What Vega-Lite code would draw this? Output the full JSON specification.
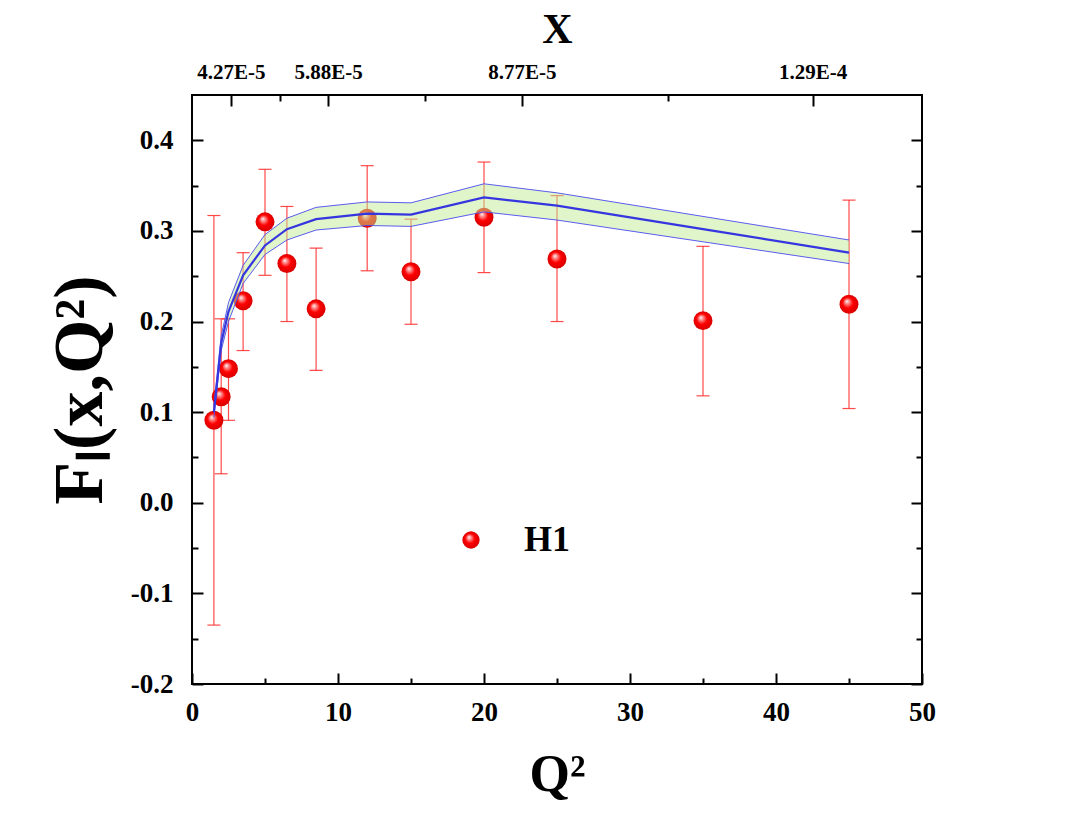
{
  "$schema": "https://vega.github.io/schema/vega-lite/v6.json",
  "width": 730,
  "height": 589,
  "autosize": {"type": "none"},
  "padding": {"left": 192, "top": 95, "right": 150, "bottom": 137},
  "background": "white",
  "config": {
    "view": {"stroke": "black", "strokeWidth": 2},
    "font": "Liberation Serif",
    "axis": {
      "labelFont": "Liberation Serif",
      "labelFontWeight": "bold",
      "labelColor": "black",
      "labelFlush": false,
      "titleFont": "Liberation Serif",
      "titleFontWeight": "bold",
      "titleColor": "black",
      "domain": false,
      "grid": false,
      "tickColor": "black",
      "tickWidth": 2
    }
  },
  "datasets": {
    "h1": [
      {"q2": 1.5, "f": 0.091, "lo": -0.135, "hi": 0.317, "series": "H1"},
      {"q2": 2.0, "f": 0.117, "lo": 0.032, "hi": 0.203, "series": "H1"},
      {"q2": 2.5, "f": 0.148, "lo": 0.091, "hi": 0.203, "series": "H1"},
      {"q2": 3.5, "f": 0.223, "lo": 0.168, "hi": 0.276, "series": "H1"},
      {"q2": 5.0, "f": 0.310, "lo": 0.251, "hi": 0.368, "series": "H1"},
      {"q2": 6.5, "f": 0.264, "lo": 0.200, "hi": 0.327, "series": "H1"},
      {"q2": 8.5, "f": 0.214, "lo": 0.146, "hi": 0.281, "series": "H1"},
      {"q2": 12, "f": 0.314, "lo": 0.256, "hi": 0.372, "series": "H1"},
      {"q2": 15, "f": 0.255, "lo": 0.197, "hi": 0.313, "series": "H1"},
      {"q2": 20, "f": 0.315, "lo": 0.254, "hi": 0.376, "series": "H1"},
      {"q2": 25, "f": 0.269, "lo": 0.200, "hi": 0.339, "series": "H1"},
      {"q2": 35, "f": 0.201, "lo": 0.118, "hi": 0.283, "series": "H1"},
      {"q2": 45, "f": 0.219, "lo": 0.104, "hi": 0.334, "series": "H1"}
    ],
    "curve": [
      {"q2": 1.5, "c": 0.100, "lo": 0.094, "hi": 0.107},
      {"q2": 2.0, "c": 0.176, "lo": 0.168, "hi": 0.184},
      {"q2": 2.5, "c": 0.211, "lo": 0.200, "hi": 0.221},
      {"q2": 3.5, "c": 0.251, "lo": 0.242, "hi": 0.262},
      {"q2": 5.0, "c": 0.284, "lo": 0.274, "hi": 0.296},
      {"q2": 6.5, "c": 0.302, "lo": 0.290, "hi": 0.314},
      {"q2": 8.5, "c": 0.313, "lo": 0.301, "hi": 0.326},
      {"q2": 12, "c": 0.319, "lo": 0.306, "hi": 0.332},
      {"q2": 15, "c": 0.318, "lo": 0.305, "hi": 0.331},
      {"q2": 20, "c": 0.337, "lo": 0.321, "hi": 0.352},
      {"q2": 25, "c": 0.328, "lo": 0.312, "hi": 0.342},
      {"q2": 35, "c": 0.302, "lo": 0.288, "hi": 0.316},
      {"q2": 45, "c": 0.276, "lo": 0.264, "hi": 0.290}
    ]
  },
  "layer": [
    {
      "data": {"name": "h1"},
      "mark": {"type": "rule", "color": "#ff2a2a", "strokeWidth": 1.2, "opacity": 0.85},
      "encoding": {
        "x": {"field": "q2", "type": "quantitative", "scale": {"domain": [0, 50], "nice": false, "zero": false},
          "axis": {"orient": "bottom", "values": [0,5,10,15,20,25,30,35,40,45,50],
            "labelExpr": "datum.value % 10 == 0 ? datum.label : ''",
            "labelFontSize": 27, "labelPadding": 26,
            "tickSize": {"condition": {"test": "datum.value % 10 == 0", "value": -11}, "value": -6},
            "title": "Q²", "titleFontSize": 52, "titlePadding": 24}},
        "y": {"field": "lo", "type": "quantitative", "scale": {"domain": [-0.2, 0.45], "nice": false, "zero": false},
          "axis": {"orient": "left", "values": [-0.2,-0.15,-0.1,-0.05,0,0.05,0.1,0.15,0.2,0.25,0.3,0.35,0.4],
            "labelExpr": "round(datum.value*100) % 10 == 0 ? replace(format(datum.value, '.1f'), '−', '-') : ''",
            "labelFontSize": 27, "labelPadding": 30,
            "tickSize": {"condition": {"test": "round(datum.value*100) % 10 == 0", "value": -11}, "value": -6},
            "title": "Fₗ(x,Q²)", "titleFontSize": 70, "titlePadding": 14}},
        "y2": {"field": "hi"}
      }
    },
    {
      "data": {"name": "h1"},
      "mark": {"type": "tick", "orient": "horizontal", "color": "#ff2a2a", "thickness": 1.2, "size": 13, "opacity": 0.85},
      "encoding": {
        "x": {"field": "q2", "type": "quantitative", "axis": null},
        "y": {"field": "hi", "type": "quantitative", "axis": null}
      }
    },
    {
      "data": {"name": "h1"},
      "mark": {"type": "tick", "orient": "horizontal", "color": "#ff2a2a", "thickness": 1.2, "size": 13, "opacity": 0.85},
      "encoding": {
        "x": {"field": "q2", "type": "quantitative", "axis": null},
        "y": {"field": "lo", "type": "quantitative", "axis": null}
      }
    },
    {
      "data": {"name": "h1"},
      "mark": {"type": "point", "filled": true, "size": 360, "opacity": 1, "strokeWidth": 0,
        "fill": {"gradient": "radial", "x1": 0.38, "y1": 0.33, "r1": 0, "x2": 0.5, "y2": 0.5, "r2": 0.55,
          "stops": [{"offset": 0, "color": "#ffffff"}, {"offset": 0.18, "color": "#ff9a9a"}, {"offset": 0.5, "color": "#ff0000"}, {"offset": 1, "color": "#d00000"}]}},
      "encoding": {
        "x": {"field": "q2", "type": "quantitative", "axis": null},
        "y": {"field": "f", "type": "quantitative", "axis": null},
        "shape": {"field": "series", "type": "nominal", "scale": {"range": ["circle"]},
          "legend": {"orient": "none", "legendX": 261, "legendY": 427, "title": null,
            "labelFont": "Liberation Serif", "labelFontWeight": "bold", "labelFontSize": 36, "labelColor": "black",
            "symbolSize": 300, "labelOffset": 35, "padding": 0,
            "symbolFillColor": "#ff1010", "symbolStrokeWidth": 0,
            "encode": {"symbols": {"update": {"fill": {"value": {"gradient": "radial", "x1": 0.38, "y1": 0.33, "r1": 0, "x2": 0.5, "y2": 0.5, "r2": 0.55,
              "stops": [{"offset": 0, "color": "#ffffff"}, {"offset": 0.18, "color": "#ff9a9a"}, {"offset": 0.5, "color": "#ff0000"}, {"offset": 1, "color": "#d00000"}]}}, "strokeWidth": {"value": 0}}}}}}
      }
    },
    {
      "data": {"name": "curve"},
      "mark": {"type": "area", "color": "#c2ec94", "opacity": 0.5},
      "encoding": {
        "x": {"field": "q2", "type": "quantitative", "axis": null},
        "y": {"field": "lo", "type": "quantitative", "axis": null},
        "y2": {"field": "hi"}
      }
    },
    {
      "data": {"name": "curve"},
      "mark": {"type": "line", "color": "#4a4af0", "strokeWidth": 0.9},
      "encoding": {
        "x": {"field": "q2", "type": "quantitative", "axis": null},
        "y": {"field": "lo", "type": "quantitative", "axis": null}
      }
    },
    {
      "data": {"name": "curve"},
      "mark": {"type": "line", "color": "#4a4af0", "strokeWidth": 0.9},
      "encoding": {
        "x": {"field": "q2", "type": "quantitative", "axis": null},
        "y": {"field": "hi", "type": "quantitative", "axis": null}
      }
    },
    {
      "data": {"name": "curve"},
      "mark": {"type": "line", "color": "#3636e0", "strokeWidth": 2.2},
      "encoding": {
        "x": {"field": "q2", "type": "quantitative",
          "axis": {"orient": "top", "values": [2.67, 6.03, 9.32, 15.96, 22.6, 32.6, 42.5],
            "labelExpr": "datum.value == 2.67 ? '4.27E-5' : datum.value == 9.32 ? '5.88E-5' : datum.value == 22.6 ? '8.77E-5' : datum.value == 42.5 ? '1.29E-4' : ''",
            "labelFontSize": 21, "labelPadding": 24,
            "tickSize": {"condition": {"test": "datum.value == 2.67 || datum.value == 9.32 || datum.value == 22.6 || datum.value == 42.5", "value": -11}, "value": -6},
            "title": "X", "titleFontSize": 42, "titlePadding": 10}},
        "y": {"field": "c", "type": "quantitative",
          "axis": {"orient": "right", "values": [-0.2,-0.15,-0.1,-0.05,0,0.05,0.1,0.15,0.2,0.25,0.3,0.35,0.4],
            "labels": false, "title": null,
            "tickSize": {"condition": {"test": "round(datum.value*100) % 10 == 0", "value": -11}, "value": -6}}}
      }
    }
  ],
  "resolve": {"axis": {"x": "independent", "y": "independent"}}
}
